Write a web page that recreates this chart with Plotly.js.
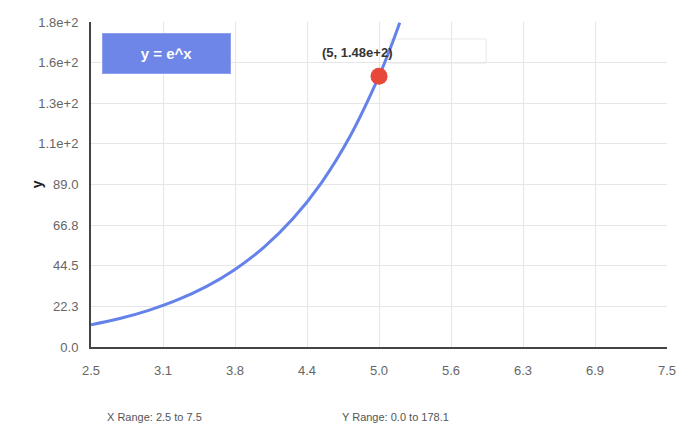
<!DOCTYPE html>
<html>
<head>
<meta charset="utf-8">
<script src="https://cdn.plot.ly/plotly-3.0.1.min.js"></script>
<style>
  html, body { margin: 0; padding: 0; background: #fff; }
  #chart { width: 698px; height: 427px; }
</style>
</head>
<body>
<div id="chart"></div>
<script>
// points
const curveX = [2.5, 2.75, 3.0, 3.25, 3.5, 3.75, 4.0, 4.25, 4.5, 4.75, 5.0, 5.1, 5.18];
const curveY = [12.2, 15.6, 20.1, 25.8, 33.1, 42.5, 54.6, 70.1, 90.0, 115.6, 148.4, 164.0, 177.7];

const pointX = [5];
const pointY = [148.4];
const pointLabel = '(5, 1.48e+2)';

const xTickVals = [2.5, 3.125, 3.75, 4.375, 5.0, 5.625, 6.25, 6.875, 7.5];
const xTickText = ['2.5', '3.1', '3.8', '4.4', '5.0', '5.6', '6.3', '6.9', '7.5'];
const yTickVals = [0, 22.26, 44.53, 66.79, 89.05, 111.3, 133.6, 155.8, 178.1];
const yTickText = ['0.0', '22.3', '44.5', '66.8', '89.0', '1.1e+2', '1.3e+2', '1.6e+2', '1.8e+2'];

const xRange = [2.5, 7.5];
const yRange = [0, 178.1];

const legendText = 'y = e^x';
const xRangeText = 'X Range: 2.5 to 7.5';
const yRangeText = 'Y Range: 0.0 to 178.1';

const font = 'Arial, "Liberation Sans", sans-serif';

const data = [
    {
        x: curveX, y: curveY, type: 'scatter', mode: 'lines',
        line: { color: '#6482ea', width: 3, shape: 'spline', smoothing: 1 },
        hoverinfo: 'none'
    },
    {
        x: pointX, y: pointY, type: 'scatter', mode: 'markers',
        marker: { color: '#e8483a', size: 17 },
        hoverinfo: 'none'
    }
];

const layout = {
    width: 698, height: 427,
    margin: { l: 91, r: 31, t: 22, b: 80 },
    paper_bgcolor: '#fff', plot_bgcolor: '#fff',
    showlegend: false,
    font: { family: font, color: '#666', size: 12 },
    xaxis: {
        range: xRange, tickvals: xTickVals, ticktext: xTickText,
        showgrid: true, gridcolor: '#e6e6e6', gridwidth: 1,
        zeroline: false, showline: true, linecolor: '#444', linewidth: 2,
        ticks: 'outside', ticklen: 10, tickcolor: 'rgba(0,0,0,0)',
        tickfont: { size: 13, color: '#666' }
    },
    yaxis: {
        range: yRange, tickvals: yTickVals, ticktext: yTickText,
        showgrid: true, gridcolor: '#e6e6e6', gridwidth: 1,
        zeroline: false, showline: true, linecolor: '#444', linewidth: 2,
        ticks: 'outside', ticklen: 8, tickcolor: 'rgba(0,0,0,0)',
        tickfont: { size: 13, color: '#666' }
    },
    shapes: [{
        type: 'rect', xref: 'x', yref: 'y', layer: 'below',
        x0: 5.095, x1: 5.93, y0: 155.6, y1: 168.8,
        fillcolor: '#fff', line: { color: '#e8e8e8', width: 1 }
    }],
    annotations: [
        {
            x: pointX[0], y: pointY[0], xref: 'x', yref: 'y',
            text: '<b>' + pointLabel + '</b>', showarrow: false,
            xshift: -22, yshift: 24,
            font: { family: font, size: 13, color: '#333' }
        },
        {
            x: 0.131, y: 0.903, xref: 'paper', yref: 'paper',
            xanchor: 'center', yanchor: 'middle',
            text: '<b>' + legendText + '</b>', showarrow: false,
            width: 125, height: 37,
            bgcolor: '#6d86e8', bordercolor: '#8ea0ee', borderwidth: 1,
            font: { family: font, size: 15, color: '#fff' }
        },
        {
            x: -0.094, y: 0.5, xref: 'paper', yref: 'paper',
            xanchor: 'center', yanchor: 'middle',
            text: '<b>y</b>', showarrow: false, textangle: -90,
            font: { family: font, size: 14, color: '#222' }
        },
        {
            x: 0.024, y: -0.215, xref: 'paper', yref: 'paper',
            xanchor: 'left', yanchor: 'middle', text: xRangeText, showarrow: false,
            font: { family: font, size: 11, color: '#555' }
        },
        {
            x: 0.432, y: -0.215, xref: 'paper', yref: 'paper',
            xanchor: 'left', yanchor: 'middle', text: yRangeText, showarrow: false,
            font: { family: font, size: 11, color: '#555' }
        }
    ]
};

Plotly.newPlot('chart', data, layout, { staticPlot: true, displayModeBar: false });
</script>
</body>
</html>
